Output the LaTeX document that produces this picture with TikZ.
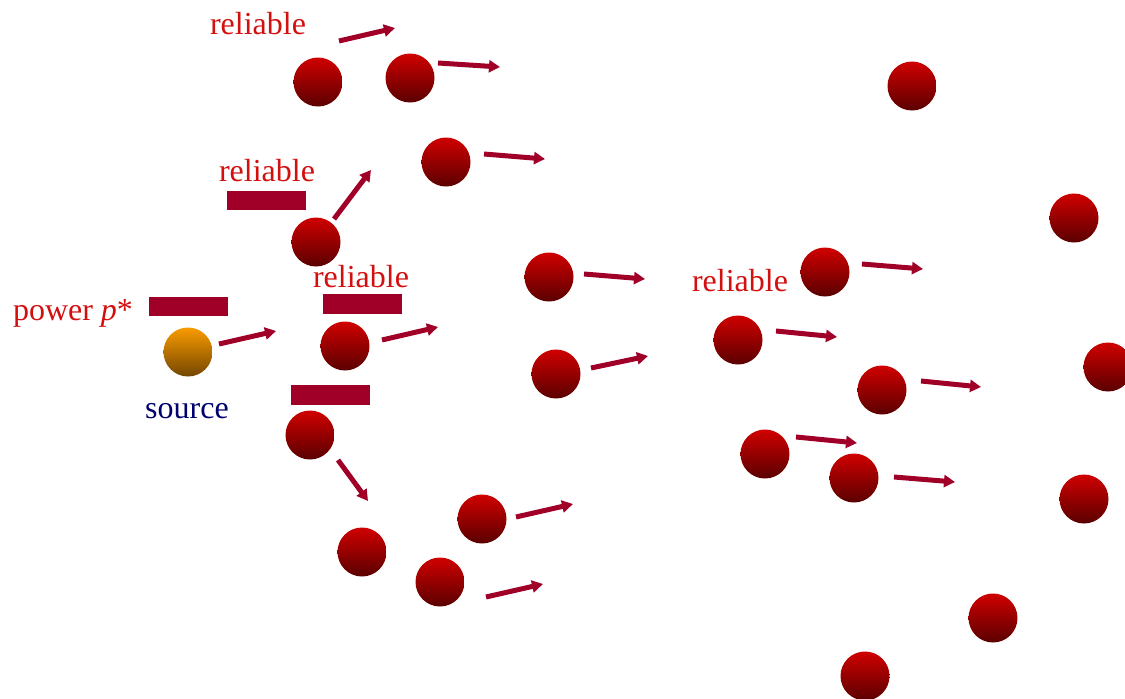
\documentclass[tikz,border=0pt]{standalone}
\usepackage{fontspec}
\setmainfont{Liberation Serif}
\usetikzlibrary{arrows.meta}
\definecolor{ballhi}{RGB}{208,0,0}
\definecolor{balllo}{RGB}{90,0,0}
\definecolor{srchi}{RGB}{250,155,0}
\definecolor{srclo}{RGB}{115,70,0}
\definecolor{mv}{RGB}{160,0,40}
\definecolor{txtred}{RGB}{210,16,16}
\definecolor{txtnavy}{RGB}{0,0,110}
\tikzset{
  ball/.style={circle,minimum size=49pt,inner sep=0pt,top color=ballhi,bottom color=balllo,draw=none},
  srcball/.style={circle,minimum size=49pt,inner sep=0pt,top color=srchi,bottom color=srclo,draw=none},
  move/.style={draw=mv,line width=5pt,-{Triangle[length=11pt,width=12pt]}},
  bar/.style={fill=mv,draw=none},
  lbl/.style={text=txtred,font=\fontsize{32}{38}\selectfont,anchor=base,inner sep=0pt},
}
\begin{document}
\begin{tikzpicture}[x=1pt,y=-1pt]
\useasboundingbox (0,0) rectangle (1125,699);
\clip (0,0) rectangle (1125,699);
% balls
\node[ball] (b1) at (318,82) {};
\node[ball] (b2) at (410,78) {};
\node[ball] (b3) at (446,162) {};
\node[ball] (b4) at (316,242) {};
\node[ball] (b5) at (549,277) {};
\node[ball] (b6) at (345,346) {};
\node[ball] (b7) at (556,374) {};
\node[ball] (b8) at (310,435) {};
\node[ball] (b9) at (362,552) {};
\node[ball] (b10) at (482,519) {};
\node[ball] (b11) at (440,582) {};
\node[ball] (b12) at (912,86) {};
\node[ball] (b13) at (1074,218) {};
\node[ball] (b14) at (825,272) {};
\node[ball] (b15) at (738,340) {};
\node[ball] (b16) at (882,390) {};
\node[ball] (b17) at (1108,367) {};
\node[ball] (b18) at (765,454) {};
\node[ball] (b19) at (854,478) {};
\node[ball] (b20) at (1084,499) {};
\node[ball] (b21) at (993,618) {};
\node[ball] (b22) at (865,676) {};
\node[srcball] (src) at (188,352) {};
% bars
\path[bar] (227,191) rectangle (306,210);
\path[bar] (149,297) rectangle (228,316);
\path[bar] (323,294) rectangle (402,314);
\path[bar] (291,385) rectangle (370,405);
% motion arrows
\draw[move] (339,41) -- (395,28);
\draw[move] (438,63) -- (500,67);
\draw[move] (334,219) -- (371,170);
\draw[move] (484,154) -- (545,159);
\draw[move] (584,274) -- (645,279);
\draw[move] (219,344) -- (276,331);
\draw[move] (382,340) -- (438,327);
\draw[move] (591,368) -- (648,356);
\draw[move] (338,460) -- (368,501);
\draw[move] (516,517) -- (573,504);
\draw[move] (486,597) -- (543,584);
\draw[move] (862,264) -- (923,269);
\draw[move] (776,331) -- (837,337);
\draw[move] (921,381) -- (981,387);
\draw[move] (796,437) -- (857,443);
\draw[move] (894,477) -- (955,482);
% labels
\node[lbl] (r1) at (258,34) {reliable};
\node[lbl] (r2) at (267,181) {reliable};
\node[lbl] (r3) at (361,287) {reliable};
\node[lbl] (r4) at (740,291) {reliable};
\node[lbl] (pw) at (73,320) {power \textit{p}*};
\node[lbl,text=txtnavy] (srcl) at (187,418) {source};
\end{tikzpicture}
\end{document}
